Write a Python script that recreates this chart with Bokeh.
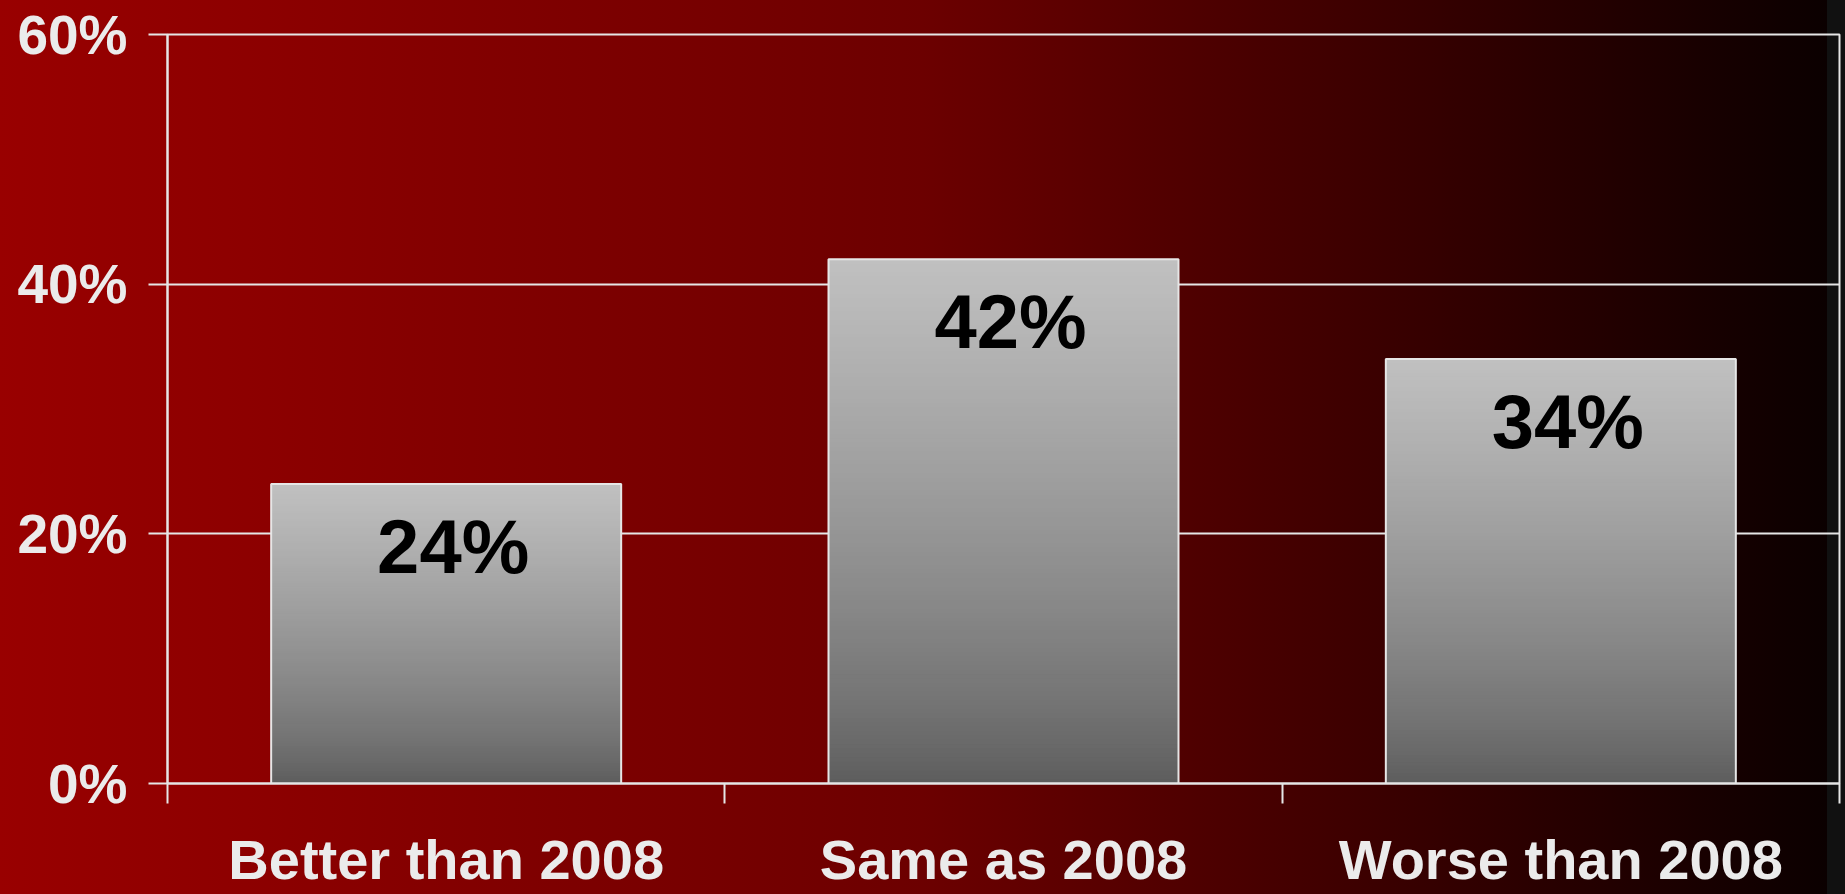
import numpy as np
from bokeh.plotting import figure
from bokeh.models import FixedTicker, PrintfTickFormatter, Range1d
from bokeh.core.properties import value
from bokeh.embed import file_html
from bokeh.resources import INLINE

# ---- data ----
categories = ["Better than 2008", "Same as 2008", "Worse than 2008"]
shares = [24, 42, 34]
y_ticks = [0, 20, 40, 60]

# ---- styling ----
LINE = "#e6e6e6"
FONT = "Liberation Sans"
BAR_W = 0.628

p = figure(width=1845, height=894, output_backend="svg", toolbar_location=None,
           x_range=Range1d(0, len(categories)), y_range=Range1d(0, y_ticks[-1]),
           min_border_left=167, min_border_right=6, min_border_top=34,
           min_border_bottom=111)
p.styles = {
    "margin": "0px",
    "background": "linear-gradient(to right, #990000 0%, #6c0000 50%, "
                  "#3a0000 75%, #0b0000 99%, #111111 99%, #111111 100%)",
}
p.background_fill_color = None
p.border_fill_color = None
p.outline_line_color = LINE
p.outline_line_width = 2

x_centers = [float(i) + 0.5 for i in range(len(categories))]

# vertical gradient fill of the bars (stacked shrinking rects, light top -> dark bottom)
N = 120
top_rgb = np.array([192, 192, 192])
bot_rgb = np.array([90, 90, 90])
xs, tops, cols = [], [], []
for k in range(N, 0, -1):
    f = k / N
    c = bot_rgb + (top_rgb - bot_rgb) * (f ** 0.75)
    hexc = "#%02x%02x%02x" % tuple(int(round(v)) for v in c)
    for xc, v in zip(x_centers, shares):
        xs.append(xc)
        tops.append(v * f)
        cols.append(hexc)
p.vbar(x=xs, top=tops, bottom=0, width=BAR_W, fill_color=cols, line_color=None)
p.vbar(x=x_centers, top=shares, bottom=0, width=BAR_W, fill_color=None,
       line_color=LINE, line_width=2)

p.text(x=x_centers, y=shares, text=[f"{v}%" for v in shares],
       x_offset=7, y_offset=20, text_align="center", text_baseline="top",
       text_font=value(FONT), text_font_style="bold", text_font_size="76px",
       text_color="black")

# x axis: labels at category centres, tick marks at category boundaries
xa = p.xaxis[0]
xa.ticker = FixedTicker(ticks=x_centers, minor_ticks=[float(i) for i in range(len(categories) + 1)])
xa.major_label_overrides = {xc: c for xc, c in zip(x_centers, categories)}
xa.major_tick_out = 0
xa.major_tick_in = 0
xa.minor_tick_out = 20
xa.minor_tick_in = 0
xa.minor_tick_line_color = LINE
xa.minor_tick_line_width = 2
xa.axis_line_color = LINE
xa.axis_line_width = 2
xa.major_label_standoff = 24
xa.major_label_text_font = FONT
xa.major_label_text_font_style = "bold"
xa.major_label_text_font_size = "56px"
xa.major_label_text_color = "#ebebeb"

ya = p.yaxis[0]
ya.ticker = FixedTicker(ticks=y_ticks, minor_ticks=[])
ya.formatter = PrintfTickFormatter(format="%d%%")
ya.major_tick_out = 19
ya.major_tick_in = 0
ya.major_tick_line_color = LINE
ya.major_tick_line_width = 2
ya.minor_tick_out = 0
ya.minor_tick_in = 0
ya.axis_line_color = LINE
ya.axis_line_width = 2
ya.major_label_standoff = 21
ya.major_label_text_font = FONT
ya.major_label_text_font_style = "bold"
ya.major_label_text_font_size = "55px"
ya.major_label_text_color = "#ebebeb"

p.xgrid.visible = False
p.ygrid.grid_line_color = LINE
p.ygrid.grid_line_width = 2

open("out.html", "w").write(file_html(p, INLINE))
